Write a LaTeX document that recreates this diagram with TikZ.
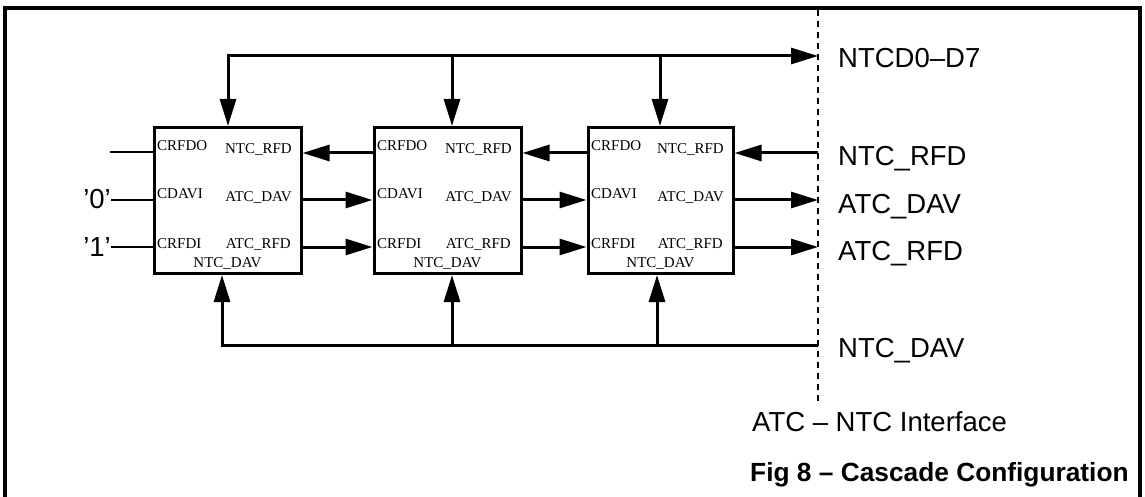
\documentclass[tikz,border=0pt]{standalone}
\usepackage{fontspec}
\setmainfont{Liberation Serif}
\newfontfamily\sansf{Liberation Sans}
\usetikzlibrary{arrows.meta}
\begin{document}
\begin{tikzpicture}[x=1pt,y=-1pt,
  conn/.style={line width=3pt},
  arr/.style={conn,-{Triangle[length=27pt,width=16pt]}},
  arrboth/.style={conn,{Triangle[length=27pt,width=16pt]}-{Triangle[length=27pt,width=16pt]}},
  thin/.style={line width=2pt},
  blk/.style={draw,line width=3pt,minimum width=147pt,minimum height=146pt,inner sep=0pt},
  pin/.style={font=\fontsize{15}{16}\selectfont,inner sep=0pt},
  sig/.style={font=\sansf\fontsize{27.5}{29}\selectfont,inner sep=0pt,anchor=base west},
  ]
\useasboundingbox (0,0) rectangle (1145,497);
% frame
\draw[line width=4pt] (5,497) -- (5,8) -- (1140,8) -- (1140,497);
% dashed interface line
\coordinate (dtop) at (818,10);
\coordinate (dbot) at (818,403);
\draw[line width=2.5pt,dash pattern=on 6pt off 5pt] (dtop) -- (dbot);
% row coordinates
\coordinate (r1) at (0,153);
\coordinate (r2) at (0,200);
\coordinate (r3) at (0,247);
% blocks
\node[blk] (b1) at (227.5,200.5) {};
\node[blk] (b2) at (447.5,200.5) {};
\node[blk,minimum width=145pt] (b3) at (660.5,200.5) {};
\foreach \b/\x/\w in {b1/154/147,b2/374/147,b3/588/145}{
  \node[pin,anchor=base west] (\b-crfdo) at (\x+3,151) {CRFDO};
  \node[pin,anchor=base west] (\b-cdavi) at (\x+3,199) {CDAVI};
  \node[pin,anchor=base west] (\b-crfdi) at (\x+3,248) {CRFDI};
  \node[pin,anchor=base east] (\b-ntcrfd) at (\x+\w-9,154) {NTC\_RFD};
  \node[pin,anchor=base east] (\b-atcdav) at (\x+\w-9,201) {ATC\_DAV};
  \node[pin,anchor=base east] (\b-atcrfd) at (\x+\w-10,248) {ATC\_RFD};
  \node[pin,anchor=base] (\b-ntcdav) at (\x+\w/2,267) {NTC\_DAV};
}
% connections between blocks
\draw[arr] (b2.west |- r1) -- (b1.east |- r1);
\draw[arr] (b1.east |- r2) -- (b2.west |- r2);
\draw[arr] (b1.east |- r3) -- (b2.west |- r3);
\draw[arr] (b3.west |- r1) -- (b2.east |- r1);
\draw[arr] (b2.east |- r2) -- (b3.west |- r2);
\draw[arr] (b2.east |- r3) -- (b3.west |- r3);
\draw[arr] (dtop |- r1) -- (b3.east |- r1);
\draw[arr] (b3.east |- r2) -- (dtop |- r2);
\draw[arr] (b3.east |- r3) -- (dtop |- r3);
% top bus
\coordinate (t1) at (228,56);
\coordinate (t2) at (452,56);
\coordinate (t3) at (660,56);
\draw[arrboth] (t1 |- b1.north) -- (t1) -- (dtop |- t1);
\draw[arr] (t2) -- (t2 |- b2.north);
\draw[arr] (t3) -- (t3 |- b3.north);
% bottom bus
\coordinate (u1) at (222,345);
\coordinate (u2) at (452,345);
\coordinate (u3) at (657,345);
\draw[arr] (dtop |- u1) -- (u1) -- (u1 |- b1.south);
\draw[arr] (u2) -- (u2 |- b2.south);
\draw[arr] (u3) -- (u3 |- b3.south);
% left inputs
\coordinate (l1) at (110,152);
\draw[thin] (l1) -- (b1.west |- l1);
\node[sig,anchor=base east] (q0) at (111,208) {’0’};
\node[sig,anchor=base east] (q1) at (111,256) {’1’};
\draw[thin] (q0.east |- r2) -- (b1.west |- r2);
\draw[thin] (q1.east |- r3) -- (b1.west |- r3);
% right labels
\node[sig] (sd) at (838,68) {NTCD0–D7};
\node[sig] (srfd) at (838,166) {NTC\_RFD};
\node[sig] (sdav) at (838,213) {ATC\_DAV};
\node[sig] (sarfd) at (838,260) {ATC\_RFD};
\node[sig] (sndav) at (838,357) {NTC\_DAV};
\node[sig] (iface) at (752,431) {ATC – NTC Interface};
\node[sig,font=\sansf\bfseries\fontsize{26.3}{28}\selectfont] (fig) at (750,481) {Fig 8 – Cascade Configuration};
\end{tikzpicture}
\end{document}
